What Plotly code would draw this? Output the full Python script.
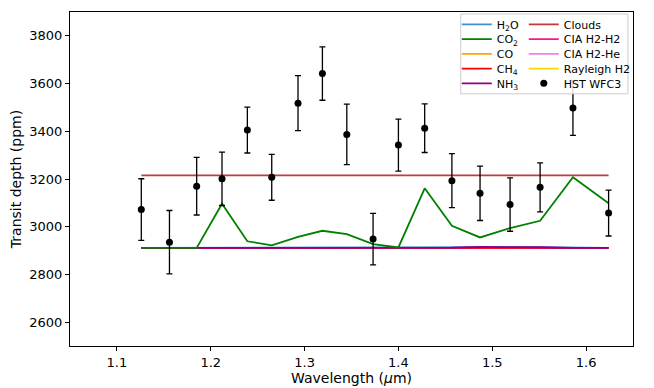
import plotly.graph_objects as go

# HST WFC3 bins
wavelength = [1.126, 1.156, 1.185, 1.212, 1.239, 1.265, 1.293, 1.319, 1.345,
              1.373, 1.400, 1.428, 1.457, 1.487, 1.519, 1.551, 1.586, 1.624]
depth = [3072, 2935, 3170, 3201, 3405, 3207, 3518, 3642, 3387,
         2948, 3342, 3413, 3193, 3140, 3093, 3165, 3498, 3057]
depth_err = [129, 133, 121, 112, 96, 96, 115, 112, 127,
             108, 109, 102, 113, 114, 112, 103, 115, 96]

# model contributions (ppm)
h2o = [2911, 2911, 2911, 2911, 2911, 2911, 2911, 2911, 2911,
       2911, 2911, 2911, 2911, 2914, 2915, 2913, 2911, 2911]
co2 = [2911, 2911, 2911, 3096, 2939, 2922, 2957, 2983, 2969,
       2927, 2913, 3161, 3004, 2955, 2994, 3025, 3207, 3098]
co = [2911] * 18
ch4 = [2911, 2911, 2911, 2911, 2911, 2911, 2911, 2911, 2911,
       2911, 2911, 2911, 2911, 2913, 2914, 2912, 2911, 2911]
nh3 = [2911, 2911, 2911, 2911, 2911, 2911, 2911, 2911, 2911,
       2911, 2911, 2911, 2912, 2915, 2916, 2914, 2911, 2911]
clouds = [3215] * 18
cia_h2h2 = [2911] * 18
cia_h2he = [2911] * 18
rayleigh = [2911] * 18

# legend entries in matplotlib 2-column order: name -> (column, row)
legend_pos = {
    "H<sub>2</sub>O": (0, 0), "CO<sub>2</sub>": (0, 1), "CO": (0, 2),
    "CH<sub>4</sub>": (0, 3), "NH<sub>3</sub>": (0, 4),
    "Clouds": (1, 0), "CIA H2-H2": (1, 1), "CIA H2-He": (1, 2),
    "Rayleigh H2": (1, 3), "HST WFC3": (1, 4),
}
col_x = [0.687, 0.806]
row_y = [0.960, 0.916, 0.872, 0.828, 0.784]
legend_key = {name: ("legend" if i == 0 else "legend%d" % (i + 1))
              for i, name in enumerate(legend_pos)}

fig = go.Figure()

def add_line(y, name, color):
    fig.add_trace(go.Scatter(
        x=wavelength, y=y, mode="lines", name=name,
        line=dict(color=color, width=1.8),
        legend=legend_key[name]
    ))

# drawing order chosen so the baseline shows purple like the original
add_line(rayleigh, "Rayleigh H2", "#ffd700")
add_line(co, "CO", "#ffa500")
add_line(h2o, "H<sub>2</sub>O", "#3c8fd6")
add_line(cia_h2he, "CIA H2-He", "#ee82ee")
add_line(cia_h2h2, "CIA H2-H2", "#ff1493")
add_line(ch4, "CH<sub>4</sub>", "#ff0000")
add_line(nh3, "NH<sub>3</sub>", "#8b008b")
add_line(co2, "CO<sub>2</sub>", "#008000")
add_line(clouds, "Clouds", "#c23b3b")

fig.add_trace(go.Scatter(
    x=wavelength, y=depth, mode="markers", name="HST WFC3",
    marker=dict(color="black", size=7),
    error_y=dict(type="data", array=depth_err, color="black",
                 thickness=1.3, width=3),
    legend=legend_key["HST WFC3"]
))

# single legend frame behind the legend entries
fig.add_shape(type="rect", xref="paper", yref="paper",
              x0=0.694, x1=0.991, y0=0.755, y1=0.994,
              line=dict(color="#cccccc", width=1),
              fillcolor="rgba(255,255,255,0.85)", layer="above")

legends = {}
for name, key in legend_key.items():
    c, r = legend_pos[name]
    legends[key] = dict(x=col_x[c], y=row_y[r], xanchor="left", yanchor="middle",
                        bgcolor="rgba(0,0,0,0)", borderwidth=0,
                        font=dict(size=11, color="black"), itemwidth=30)

# the page adds an 8px body margin, so margins are reduced by 8 on left/top
fig.update_layout(
    width=654, height=388,
    margin=dict(l=62, r=29, t=3, b=50),
    showlegend=True,
    paper_bgcolor="white", plot_bgcolor="white",
    font=dict(family="DejaVu Sans", color="black"),
    xaxis=dict(
        range=[1.05, 1.65], tickvals=[1.1, 1.2, 1.3, 1.4, 1.5, 1.6],
        ticktext=["1.1", "1.2", "1.3", "1.4", "1.5", "1.6"],
        showgrid=False, zeroline=False, showline=True, mirror=True,
        linecolor="black", linewidth=1.2, ticks="outside", ticklen=4,
        tickcolor="black", tickfont=dict(size=13), automargin=False,
        title=dict(text="Wavelength (<i>μ</i>m)", font=dict(size=14), standoff=4)
    ),
    yaxis=dict(
        range=[2500, 3900], tickvals=[2600, 2800, 3000, 3200, 3400, 3600, 3800],
        showgrid=False, zeroline=False, showline=True, mirror=True,
        linecolor="black", linewidth=1.2, ticks="outside", ticklen=4,
        tickcolor="black", tickfont=dict(size=13), automargin=False,
        title=dict(text="Transit depth (ppm)", font=dict(size=14), standoff=6)
    ),
    **legends
)

fig.write_html("out.html")
